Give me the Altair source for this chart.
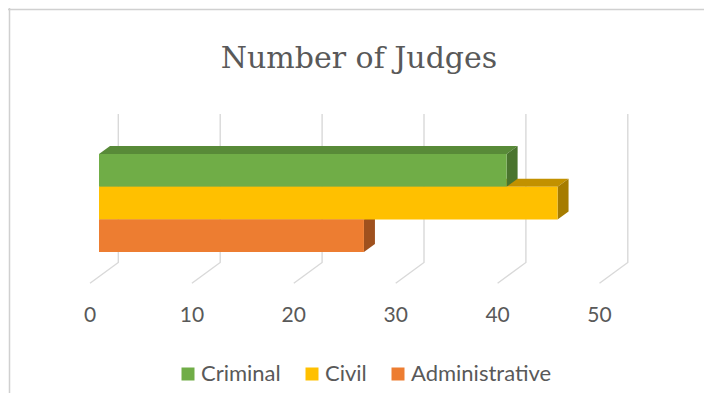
import altair as alt
import pandas as pd

# ---- data ----
categories = ["Criminal", "Civil", "Administrative"]
values = [40, 45, 26]
tick_values = [0, 10, 20, 30, 40, 50]
tick_labels = ["0", "10", "20", "30", "40", "50"]
chart_title = "Number of Judges"

# ---- styles ----
front_colors = ["#70AD47", "#FFC000", "#ED7D31"]
top_colors = ["#588A38", "#C29100", "#BA6228"]
side_colors = ["#4A742E", "#A67C00", "#9F511E"]
grid_color = "#D9D9D9"
text_color = "#595959"

# ---- layout (view = whole chart area) ----
W, H = 696, 385
PX_X = 10.19      # pixels per data unit
PX_Y = 32.7       # pixels per category band
X0 = 91           # pixel of value 0 on the bars' front plane
Y0 = 146          # pixel of the top edge of the first bar
BAR_DX, BAR_DY = 11 / PX_X, 8 / PX_Y        # bar depth
WALL_DX = 19.3 / PX_X                          # back wall offset
FLOOR_DX = -9 / PX_X                           # front edge of the floor
U_TOP = (106 - Y0) / PX_Y
U_WALL = (254.5 - Y0) / PX_Y
U_FLOOR = (275.3 - Y0) / PX_Y
U_LABEL = (313.5 - Y0) / PX_Y

xs = alt.Scale(domain=[-X0 / PX_X, (W - X0) / PX_X], range=[0, W], nice=False, zero=False)
ys = alt.Scale(domain=[-Y0 / PX_Y, (H - Y0) / PX_Y], range=[0, H], nice=False, zero=False)

# ---- tables built from the arrays ----
front = pd.DataFrame({
    "cat": categories,
    "x0": [0] * len(values),
    "v": values,
    "y": list(range(len(values))),
    "y2": [i + 1 for i in range(len(values))],
})

top_rows, side_rows = [], []
for i, (c, v) in enumerate(zip(categories, values)):
    top_rows.append({"cat": c, "y": i, "x": 0, "x2": v})
    top_rows.append({"cat": c, "y": i - BAR_DY, "x": BAR_DX, "x2": v + BAR_DX})
    side_rows.append({"cat": c, "x": v, "y": i, "y2": i + 1})
    side_rows.append({"cat": c, "x": v + BAR_DX, "y": i - BAR_DY, "y2": i + 1 - BAR_DY})
top = pd.DataFrame(top_rows)
side = pd.DataFrame(side_rows)

grid_rows = []
for t in tick_values:
    grid_rows.append({"t": t, "o": 0, "x": t + WALL_DX, "y": U_TOP})
    grid_rows.append({"t": t, "o": 1, "x": t + WALL_DX, "y": U_WALL})
    grid_rows.append({"t": t, "o": 2, "x": t + FLOOR_DX, "y": U_FLOOR})
grid = pd.DataFrame(grid_rows)

labels = pd.DataFrame({"x": [t + FLOOR_DX for t in tick_values], "label": tick_labels,
                       "y": [U_LABEL] * len(tick_values)})

noax = dict(axis=None)

grid_layer = alt.Chart(grid).mark_line(color=grid_color, strokeWidth=1.4).encode(
    x=alt.X("x:Q", scale=xs, **noax),
    y=alt.Y("y:Q", scale=ys, **noax),
    detail="t:N",
    order="o:Q",
)

top_layer = alt.Chart(top).mark_area(orient="horizontal").encode(
    y=alt.Y("y:Q", scale=ys, **noax),
    x=alt.X("x:Q", scale=xs, **noax),
    x2="x2:Q",
    fill=alt.Fill("cat:N", scale=alt.Scale(domain=categories, range=top_colors), legend=None),
    detail="cat:N",
)

side_layer = alt.Chart(side).mark_area(orient="vertical").encode(
    x=alt.X("x:Q", scale=xs, **noax),
    y=alt.Y("y:Q", scale=ys, **noax),
    y2="y2:Q",
    fill=alt.Fill("cat:N", scale=alt.Scale(domain=categories, range=side_colors), legend=None),
    detail="cat:N",
)

front_layer = alt.Chart(front).mark_rect().encode(
    x=alt.X("x0:Q", scale=xs, **noax),
    x2="v:Q",
    y=alt.Y("y:Q", scale=ys, **noax),
    y2="y2:Q",
    color=alt.Color(
        "cat:N",
        scale=alt.Scale(domain=categories, range=front_colors),
        legend=alt.Legend(
            title=None, orient="none", direction="horizontal",
            legendX=169, legendY=355, symbolType="square", symbolSize=169,
            symbolStrokeWidth=0, labelFont="Lato", labelFontSize=22,
            labelColor=text_color, labelOffset=2, columnPadding=20, padding=0,
        ),
    ),
)

label_layer = alt.Chart(labels).mark_text(
    font="Lato", fontSize=21, color=text_color, align="center", baseline="alphabetic"
).encode(
    x=alt.X("x:Q", scale=xs, **noax),
    y=alt.Y("y:Q", scale=ys, **noax),
    text="label:N",
)

title_layer = alt.Chart(pd.DataFrame({"t": [chart_title]})).mark_text(
    font="DejaVu Serif", fontSize=30, color=text_color, align="center", baseline="alphabetic"
).encode(x=alt.value(351), y=alt.value(59.5), text="t:N")

border_top = alt.Chart(pd.DataFrame({"a": [0]})).mark_rule(color="#D0D0D0", strokeWidth=1.5).encode(
    x=alt.value(0), x2=alt.value(W), y=alt.value(1.5))
border_left = alt.Chart(pd.DataFrame({"a": [0]})).mark_rule(color="#D0D0D0", strokeWidth=1.5).encode(
    x=alt.value(1.5), y=alt.value(0), y2=alt.value(H))

chart = alt.layer(
    border_top, border_left, grid_layer, top_layer, side_layer, front_layer, label_layer, title_layer
).resolve_scale(fill="independent", color="independent").properties(
    width=W, height=H, padding=0, autosize=alt.AutoSizeParams(type="none")
).configure_view(stroke=None)

chart.save("out.html", embed_options={"renderer": "svg", "actions": False})
